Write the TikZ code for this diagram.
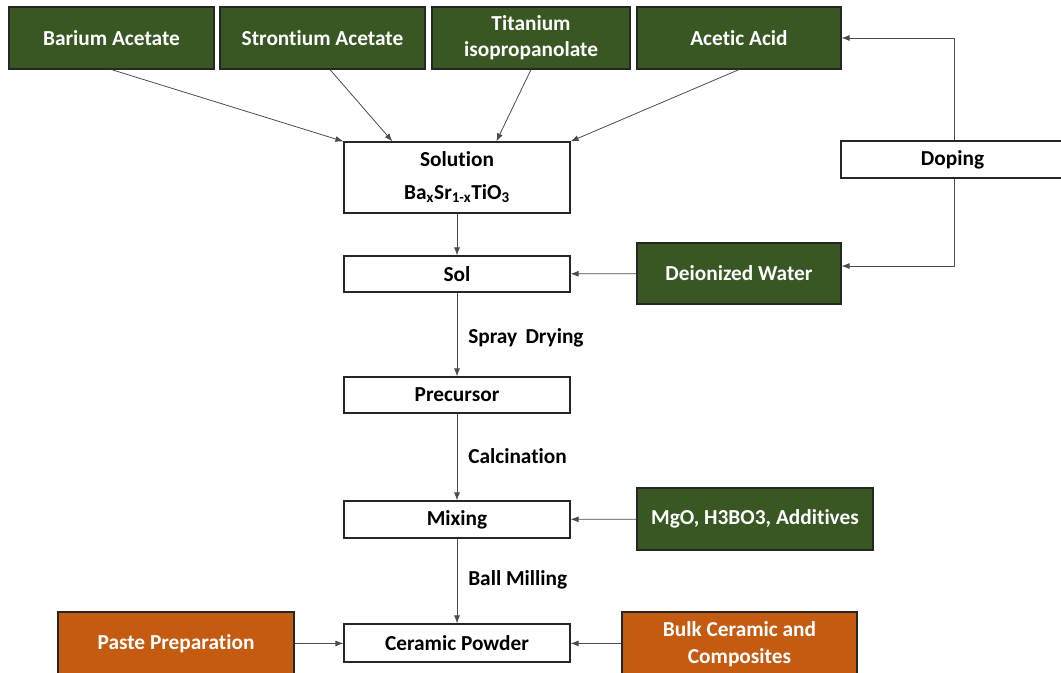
\documentclass[tikz,border=0pt]{standalone}
\usepackage{fontspec}
\setmainfont{Carlito}[Ligatures=NoCommon]
\usetikzlibrary{arrows.meta}
\definecolor{rawgreen}{RGB}{56,87,35}
\definecolor{useorange}{RGB}{197,90,17}
\tikzset{
  box/.style={draw=black!85,line width=0.9pt,inner sep=0pt,align=center,
    font=\bfseries\fontsize{16}{19.5}\selectfont},
  rawbox/.style={box,fill=rawgreen,text=white,minimum height=46.5pt},
  usebox/.style={box,fill=useorange,text=white,minimum width=177pt,minimum height=48pt},
  stepbox/.style={box,fill=white,minimum width=169.5pt,minimum height=27pt},
  flow/.style={-{Latex[length=6pt,width=4.5pt]},draw=black!70,line width=0.6pt},
  lbl/.style={anchor=west,inner sep=0pt,font=\bfseries\fontsize{16}{18}\selectfont}
}

\begin{document}
\begin{tikzpicture}[x=0.75pt,y=-0.75pt]
\useasboundingbox (0,0) rectangle (1061,673);
% raw materials
\node[rawbox,minimum width=153.75pt] (barium) at (111.5,38) {Barium Acetate};
\node[rawbox,minimum width=153.75pt] (strontium) at (322.5,38) {Strontium Acetate};
\node[rawbox,minimum width=148.5pt] (titanium) at (531,38) {Titanium\\isopropanolate};
\node[rawbox,minimum width=153pt] (acetic) at (739,38) {Acetic Acid};
% process steps
\node[stepbox,minimum height=53.25pt] (solution) at (457,177.5) {Solution\\[5pt]Ba\textsubscript{x}Sr\textsubscript{1-x}TiO\textsubscript{3}};
\node[stepbox] (sol) at (457,274) {Sol};
\node[stepbox] (precursor) at (457,395) {Precursor};
\node[stepbox,minimum height=27.75pt] (mixing) at (457,519.5) {Mixing};
\node[stepbox,minimum height=28.5pt] (powder) at (457,643) {Ceramic Powder};
% side inputs
\node[box,fill=white,minimum width=167.25pt,minimum height=27.75pt] (doping) at (952.5,159.5) {Doping};
\node[rawbox,minimum width=153pt,minimum height=45.75pt] (water) at (739,273.5) {Deionized Water};
\node[rawbox,minimum width=177pt] (additives) at (755,519) {MgO, H3BO3, Additives};
% uses
\node[usebox] (paste) at (176,644) {Paste Preparation};
\node[usebox,minimum width=176.25pt] (bulk) at (739.5,644) {Bulk Ceramic and\\[1pt]Composites};
% step labels
\node[lbl] (spray) at (468,338) {Spray\, Drying};
\node[lbl] (calc) at (468,456) {Calcination};
\node[lbl] (ball) at (468,580) {Ball Milling};

\draw[flow] (barium.south) -- (solution.north west);
\draw[flow] ([xshift=5.6pt]strontium.south) -- ([xshift=36.75pt]solution.north west);
\draw[flow] (titanium.south) -- ([xshift=114.75pt]solution.north west);
\draw[flow] (acetic.south) -- (solution.north east);
\draw[flow] ([xshift=1.1pt]doping.north) |- (acetic.east);
\draw[flow] ([xshift=1.1pt]doping.south) |- ([yshift=5.6pt]water.east);
\draw[flow] (solution) -- (sol);
\draw[flow] (water) -- (sol);
\draw[flow] (sol) -- (precursor);
\draw[flow] (precursor) -- (mixing);
\draw[flow] (additives) -- (mixing);
\draw[flow] (mixing) -- (powder);
\draw[flow] (paste) -- (powder);
\draw[flow] (bulk) -- (powder);
\end{tikzpicture}
\end{document}
